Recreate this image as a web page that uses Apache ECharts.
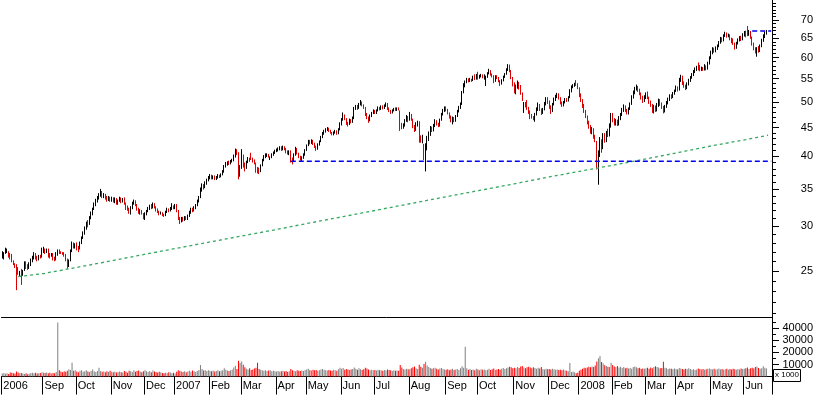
<!DOCTYPE html>
<html><head><meta charset="utf-8">
<script src="https://cdn.jsdelivr.net/npm/echarts@6/dist/echarts.min.js"></script>
<style>html,body{margin:0;padding:0;background:#fff;}#c{width:817px;height:395px;}</style>
</head><body><div id="c"></div>
<script>
// ---- categories (month segments of daily bars) ----
const monthLabels = ['2006','Sep','Oct','Nov','Dec','2007','Feb','Mar','Apr','May','Jun','Jul','Aug','Sep','Oct','Nov','Dec','2008','Feb','Mar','Apr','May','Jun'];
const monthDays   = [26,21,22,21,19,22,20,22,19,22,21,22,23,20,23,22,19,21,21,19,22,21,18];

// ---- daily bars: [open, close, low, high] ----
const ohlc = [
[26.5,26.9,26.3,27.1],[26.6,26.9,26.2,27.0],[26.9,27.3,26.8,27.5],[27.1,27.2,26.9,27.4],[27.0,26.6,26.4,27.1],
[26.7,26.4,26.2,26.9],[26.6,26.0,25.9,26.8],[26.0,25.7,25.6,26.1],[25.7,25.5,25.3,25.8],[25.6,24.7,23.1,25.7],
[25.2,24.9,24.6,25.4],[24.6,24.9,24.4,25.0],[25.1,24.6,23.6,25.2],[24.7,25.0,24.5,25.1],[25.2,25.8,25.0,26.0],
[25.9,25.4,25.2,26.0],[25.5,25.3,25.1,25.7],[25.4,25.7,25.2,25.9],[25.6,26.1,25.5,26.3],[26.0,26.5,25.9,26.6],
[26.4,26.8,26.2,27.0],[26.8,26.3,26.2,26.9],[26.5,26.2,26.0,26.6],[26.3,26.5,26.1,26.7],[26.6,26.5,26.3,26.7],
[26.5,27.2,26.4,27.5],
[27.1,27.4,26.9,27.6],[27.3,27.0,26.8,27.4],[27.0,27.2,26.9,27.4],[27.3,26.6,26.4,27.4],[26.7,26.5,26.3,26.9],
[26.6,26.8,26.5,26.9],[26.8,26.3,26.1,26.9],[26.3,26.1,26.0,26.5],[26.2,26.8,26.1,27.0],[26.7,27.2,26.6,27.3],
[27.2,26.9,26.8,27.3],[27.0,26.9,26.8,27.1],[26.9,26.8,26.7,27.0],[26.9,26.7,26.5,27.0],[26.7,26.2,26.0,26.8],
[26.2,25.6,25.2,26.3],[25.6,26.0,25.4,26.2],[26.1,27.0,26.0,27.3],[27.1,27.8,27.0,28.2],[27.9,27.6,27.4,28.1],
[27.6,27.9,27.4,28.0],
[28.0,27.4,27.2,28.1],[27.5,27.3,27.0,27.7],[27.4,28.0,27.3,28.2],[28.0,28.6,27.9,28.8],[28.6,29.2,28.5,29.4],
[29.2,29.8,29.0,30.0],[29.8,30.3,29.6,30.6],[30.4,30.2,29.9,30.8],[30.3,31.0,30.2,31.3],[31.0,31.6,30.9,31.9],
[31.6,32.2,31.4,32.4],[32.3,32.8,32.1,33.1],[32.8,33.4,32.6,33.6],[33.4,33.8,33.1,34.0],[33.8,34.2,33.5,34.4],
[34.2,34.6,33.9,35.0],[34.5,33.9,33.7,34.7],[33.9,34.2,33.7,34.4],[34.1,33.7,33.5,34.3],[33.8,33.5,33.2,34.0],
[33.5,33.8,33.3,34.0],[33.8,33.4,33.2,33.9],
[33.4,33.7,33.2,33.9],[33.7,33.3,33.1,33.8],[33.3,33.6,33.0,33.8],[33.6,33.0,32.8,33.7],[33.0,33.3,32.8,33.5],
[33.3,33.7,33.2,33.9],[33.7,33.2,33.0,33.8],[33.3,33.5,33.1,33.7],[33.6,33.0,32.8,33.8],[33.0,32.4,32.1,33.1],
[32.5,32.3,32.0,32.7],[32.2,32.0,31.6,32.4],[31.9,32.4,31.5,32.6],[32.4,33.0,32.2,33.2],[33.0,33.3,32.8,33.5],
[33.3,32.8,32.6,33.4],[32.8,32.3,32.0,32.9],[32.3,31.8,31.6,32.4],[31.8,32.1,31.5,32.2],[32.0,31.7,31.5,32.1],
[31.6,31.2,30.9,31.7],[31.2,31.6,30.8,31.8],
[31.6,31.9,31.4,32.1],[31.9,32.3,31.8,32.5],[32.3,32.6,32.1,32.8],[32.6,32.4,32.2,32.9],[32.4,32.9,32.3,33.1],
[32.9,32.5,32.3,33.0],[32.5,32.2,31.9,32.6],[32.2,31.9,31.7,32.3],[31.9,31.6,31.4,32.0],[31.6,31.7,31.5,31.9],
[31.7,31.5,31.3,31.8],[31.5,31.4,31.2,31.6],[31.4,31.8,31.3,32.0],[31.8,32.2,31.7,32.4],[32.2,32.0,31.8,32.3],
[32.0,32.3,31.9,32.5],[32.3,32.6,32.1,33.0],[32.6,32.4,32.2,32.7],[32.4,32.7,32.2,32.9],
[32.8,32.0,31.8,32.9],[32.0,31.0,30.8,32.1],[31.0,30.6,30.3,31.2],[30.7,31.0,30.5,31.2],[31.0,30.8,30.6,31.2],
[30.8,31.1,30.7,31.3],[31.1,30.9,30.8,31.3],[30.9,31.3,30.8,31.5],[31.3,31.8,31.2,32.0],[31.8,32.2,31.6,32.4],
[32.2,32.0,31.8,32.4],[32.0,32.4,31.9,32.6],[32.4,32.7,32.2,32.9],[32.7,33.2,32.6,33.5],[33.2,33.8,33.1,34.0],
[33.8,34.8,33.7,35.2],[34.9,35.5,34.6,35.8],[35.6,35.2,34.9,35.7],[35.2,35.8,35.1,36.1],[35.8,36.3,35.6,36.5],
[36.3,36.7,36.1,36.9],
[36.6,36.9,36.4,37.2],[36.9,36.6,36.4,37.1],[36.6,36.9,36.4,37.0],[36.9,36.5,36.3,37.0],[36.5,36.7,36.3,36.9],
[36.7,37.0,36.5,37.2],[37.0,36.8,36.6,37.1],[36.8,37.1,36.7,37.3],[37.1,37.6,37.0,37.8],[37.6,38.4,37.4,38.6],
[38.4,38.8,38.2,39.1],[38.8,39.0,38.5,39.2],[39.0,38.8,38.6,39.3],[38.8,39.2,38.7,39.4],[39.2,39.4,39.0,39.6],
[39.4,40.0,39.2,40.3],[40.0,41.0,39.8,41.3],[41.0,40.5,40.2,41.2],[40.6,36.9,36.4,40.7],[37.0,38.2,36.8,38.6],
[38.2,40.4,38.0,41.2],[40.2,38.6,38.2,40.3],[38.7,38.1,37.6,39.0],[38.2,39.0,38.0,39.3],[39.0,39.6,38.9,39.9],
[39.6,39.4,39.1,39.8],[40.2,39.7,39.4,40.6],[39.7,39.3,39.0,39.8],[39.4,38.9,38.7,39.5],[38.9,38.0,37.4,39.0],
[38.1,37.7,37.3,38.3],[37.8,37.6,37.2,38.2],[37.6,38.5,37.5,38.7],[38.5,39.3,38.4,39.6],[39.3,39.9,39.2,40.2],
[39.9,40.3,39.7,40.5],[40.1,40.3,39.9,40.5],[40.3,40.0,39.8,40.4],[39.6,39.8,39.4,40.0],[39.8,40.3,39.7,40.5],
[40.3,40.6,40.1,40.8],[40.6,40.9,40.4,41.1],
[40.9,41.1,40.7,41.3],[41.0,41.3,40.8,41.5],[41.3,41.5,41.0,41.7],[41.5,41.2,40.9,41.7],[41.2,41.6,41.0,41.8],
[41.6,41.3,41.0,41.7],[41.3,40.8,40.5,41.4],[40.8,40.6,40.3,41.0],[40.5,40.9,40.2,41.0],[40.9,39.6,39.0,41.0],
[39.6,39.2,38.7,39.8],[39.3,40.2,39.1,40.5],[40.2,41.2,40.1,41.6],[41.2,40.5,40.3,41.4],[40.5,39.9,39.7,40.6],
[39.9,39.6,39.3,40.1],[39.6,39.9,39.2,40.0],[39.9,40.3,39.6,40.5],[40.3,41.0,40.1,41.2],
[41.0,41.8,40.9,42.0],[41.8,42.5,41.7,42.8],[42.5,42.3,42.0,42.8],[42.3,42.7,42.1,42.9],[42.7,42.2,41.9,42.8],
[42.2,41.7,41.4,42.3],[41.7,41.3,40.9,41.8],[41.3,41.9,41.1,42.2],[41.9,42.5,41.8,42.7],[42.5,43.3,42.4,43.5],
[43.3,43.9,43.1,44.2],[43.9,44.3,43.7,44.6],[44.3,44.6,44.1,44.9],[44.6,44.9,44.4,45.1],[44.9,44.5,44.2,45.0],
[44.5,44.1,43.9,44.6],[44.1,43.8,43.6,44.2],[43.8,44.1,43.6,44.3],[44.1,44.4,43.9,44.6],[44.4,43.9,43.7,44.5],
[43.9,44.6,43.8,44.9],[44.6,45.6,44.5,46.0],[45.6,46.5,45.4,46.8],
[46.5,47.3,46.3,47.9],[47.3,46.7,46.4,47.5],[46.7,45.9,45.5,46.8],[45.9,45.6,45.2,46.1],[45.6,46.4,45.5,46.7],
[46.4,46.0,45.8,46.6],[46.0,46.8,45.9,47.1],[46.8,48.6,46.6,49.0],[48.6,49.2,48.4,49.4],[49.2,48.7,48.4,49.4],
[48.7,49.5,48.6,49.8],[49.5,50.0,49.3,50.4],[50.0,49.4,49.1,50.1],[49.4,48.9,48.6,49.5],[48.9,47.6,47.2,49.0],
[47.6,46.9,46.6,47.8],[46.9,46.4,45.9,47.1],[46.4,47.2,46.2,47.5],[47.2,47.8,47.0,48.0],[47.8,48.2,47.6,48.5],
[48.2,47.9,47.6,48.4],[47.9,48.3,47.6,48.5],[48.3,48.8,48.1,49.1],[48.8,48.6,48.3,49.0],[48.6,49.1,48.4,49.3],
[49.1,48.8,48.5,49.3],[48.8,49.3,48.6,49.5],[49.3,49.6,49.0,49.9],[49.6,48.7,48.4,49.8],[48.7,48.2,48.0,48.9],
[48.2,47.8,47.6,48.4],[47.9,48.3,47.7,48.5],[48.3,48.6,48.1,48.8],[48.6,48.4,48.2,48.9],[48.4,48.7,48.2,48.9],
[48.7,48.5,48.3,48.9],[48.2,45.5,44.4,48.3],[45.6,45.0,44.7,45.9],[45.1,45.4,44.8,45.8],[45.4,46.3,45.2,46.6],
[46.3,47.1,46.1,47.4],[47.1,46.3,46.0,47.2],
[46.4,47.5,46.3,48.0],[47.5,46.6,46.3,47.6],[46.6,45.3,44.9,46.7],[45.3,44.6,44.2,45.5],[44.6,45.4,44.4,46.0],
[45.4,46.0,45.2,46.3],[45.9,43.2,42.3,46.2],[43.2,42.6,42.3,43.6],[42.6,43.3,42.2,43.7],[42.0,40.3,39.4,42.1],
[40.0,41.5,37.6,42.2],[41.5,42.9,41.0,43.5],[42.9,43.8,42.6,44.3],[43.8,44.9,43.5,45.3],[44.9,44.5,44.2,45.2],
[44.5,45.4,44.3,45.7],[45.4,46.2,45.1,46.6],[46.2,45.7,45.4,46.4],[45.7,45.3,45.1,45.9],[45.3,46.4,45.2,46.7],
[46.4,47.5,46.3,47.8],[47.5,48.3,47.3,48.6],[48.3,48.8,48.0,49.1],
[48.8,48.4,48.1,49.1],[48.4,47.8,47.5,48.6],[47.8,47.1,46.7,47.9],[47.1,46.4,46.0,47.3],[46.4,46.9,45.6,47.1],
[46.9,46.3,46.0,47.0],[46.3,47.2,46.1,47.4],[47.2,48.1,47.0,48.4],[48.1,48.8,47.9,49.2],[48.8,49.5,48.6,49.9],
[49.5,52.0,49.4,52.3],[52.0,53.4,51.8,54.0],[53.4,54.3,53.1,54.6],[54.3,54.9,54.0,55.2],[54.9,54.5,54.2,55.1],
[54.5,54.9,54.3,55.2],[54.9,54.6,54.3,55.0],[54.6,55.3,54.5,55.7],[55.3,55.0,54.7,56.0],[55.0,55.6,54.8,56.1],
[55.9,55.2,54.8,56.6],[55.2,55.6,55.0,55.9],[55.6,55.9,55.3,56.1],[55.9,55.4,55.1,56.0],[55.2,55.8,54.8,56.0],
[53.9,55.4,53.4,55.7],[55.4,56.2,55.2,56.5],[56.2,56.9,56.0,57.3],[56.9,56.0,55.7,57.0],[56.0,55.6,55.3,56.2],
[55.6,54.6,54.0,55.8],[54.6,55.5,54.3,55.8],[55.5,55.2,54.9,55.8],[55.2,54.5,54.2,55.4],[54.5,53.9,53.4,54.7],
[53.9,54.6,53.7,54.9],[54.6,55.4,54.4,55.7],[55.4,56.0,55.2,56.3],[56.0,57.1,55.9,57.4],[57.1,57.6,56.8,58.4],
[57.9,56.8,56.5,58.3],[56.8,55.2,54.9,57.0],[55.2,54.0,53.3,55.4],
[54.0,52.4,51.8,54.2],[52.2,53.2,51.6,53.7],[53.2,54.0,52.8,54.6],[54.0,53.2,52.6,54.3],[53.2,52.0,51.5,53.6],
[51.6,50.5,50.2,52.0],[48.2,49.6,47.8,50.0],[49.6,49.2,48.9,50.0],[49.8,48.8,48.4,50.4],[48.8,48.0,47.6,49.0],
[48.0,47.3,46.6,48.3],[47.3,47.0,46.7,47.6],[47.0,46.8,46.4,47.2],[46.6,47.5,46.1,47.8],[47.5,48.6,47.3,48.9],
[48.6,49.5,48.2,49.9],[49.5,48.5,48.2,49.6],[48.5,47.9,47.4,48.7],[47.9,48.5,47.6,48.8],[48.5,49.6,48.3,50.0],
[49.6,50.6,49.3,51.0],[50.6,50.0,49.6,51.0],
[50.0,49.0,48.6,50.3],[49.0,48.2,47.6,49.3],[48.2,49.5,48.0,49.8],[49.5,50.5,49.3,50.9],[50.5,51.2,50.2,51.5],
[51.2,51.6,50.8,51.9],[51.6,50.8,50.5,51.8],[50.8,49.8,49.5,51.0],[49.8,49.4,49.0,50.1],[49.4,49.9,49.1,50.2],
[49.9,50.5,49.7,50.8],[50.5,50.3,50.0,50.8],[50.3,51.0,50.1,51.2],[51.0,52.3,50.8,52.7],[52.3,53.1,52.0,53.5],
[53.1,53.5,52.9,53.8],[53.5,53.8,53.2,54.1],[54.6,53.7,53.4,54.7],[53.7,53.0,52.7,54.0],
[53.0,51.6,51.0,53.1],[51.6,50.4,50.0,51.8],[50.4,49.4,48.8,50.6],[49.4,48.2,47.8,49.6],[48.2,47.1,46.8,48.4],
[47.1,46.0,45.6,47.3],[46.0,45.2,44.8,46.3],[45.2,44.3,43.9,45.5],[44.3,44.7,43.8,45.1],[44.7,43.4,43.0,44.9],
[43.4,42.8,42.4,43.7],[42.5,38.4,37.9,42.6],[38.4,40.1,35.6,41.0],[40.1,42.3,39.9,43.3],[42.3,41.4,40.6,42.9],
[41.4,43.4,41.2,44.0],[43.4,42.6,42.3,44.0],[42.6,44.0,42.4,44.4],[44.0,43.6,43.3,44.8],[43.6,45.3,43.4,45.8],
[45.3,47.2,45.0,47.8],
[47.2,46.4,46.0,47.8],[46.4,45.8,45.4,46.8],[45.8,46.2,45.4,46.6],[46.2,45.6,45.3,46.5],[45.6,46.8,45.4,47.2],
[46.8,47.5,46.4,47.8],[47.5,48.4,47.2,48.8],[48.4,49.0,48.0,49.5],[49.0,48.3,48.0,49.3],[48.3,47.8,47.5,48.6],
[47.8,48.6,47.5,48.9],[48.6,49.6,48.4,49.9],[49.6,51.0,49.4,51.4],[51.0,52.0,50.7,52.4],[52.0,52.8,51.6,53.2],
[52.8,53.2,52.4,53.7],[53.2,52.5,52.1,53.4],[52.5,51.8,51.4,52.8],[51.8,51.0,50.5,52.0],[51.0,50.3,49.8,51.3],
[50.3,51.0,50.0,51.4],
[51.0,51.6,50.6,52.0],[51.6,50.9,50.6,52.2],[50.9,50.0,49.6,51.1],[50.0,49.4,49.0,50.3],[49.4,48.3,47.8,49.6],
[48.0,49.0,47.7,49.4],[49.0,48.4,48.0,49.3],[48.4,49.4,48.1,49.8],[49.4,50.2,49.0,50.7],[50.2,49.6,49.2,50.6],
[49.6,49.0,48.6,49.9],[49.0,48.2,47.7,49.2],[48.2,49.0,47.9,49.4],[49.0,49.8,48.8,50.2],[49.8,50.5,49.5,50.9],
[50.5,51.2,50.2,51.6],[51.2,51.0,50.6,51.6],[51.0,51.7,50.8,52.1],[51.7,52.3,51.5,52.6],
[52.3,53.0,52.1,53.5],[53.0,52.6,52.2,53.3],[52.6,54.6,52.4,55.2],[54.6,55.4,54.3,55.9],[55.4,54.0,53.6,55.7],
[54.0,53.4,53.0,54.4],[53.4,52.9,52.5,53.7],[52.9,53.8,52.7,54.2],[53.8,54.6,53.5,55.0],[54.6,55.2,54.3,55.6],
[55.2,55.9,55.0,56.3],[55.9,56.6,55.6,57.0],[56.6,57.2,56.3,57.6],[57.2,57.5,56.8,58.0],[57.9,57.2,56.9,58.8],
[57.6,57.0,56.7,58.2],[57.0,57.4,56.8,57.8],[57.4,57.1,56.8,57.7],[57.1,57.8,56.9,58.4],[57.8,57.3,56.9,58.1],
[57.3,58.5,57.1,59.0],
[58.5,59.8,58.3,60.3],[59.8,61.2,59.6,61.7],[61.2,62.0,60.8,62.6],[62.0,61.6,61.2,62.5],[61.6,62.3,61.3,62.8],
[62.3,62.9,61.9,63.3],[62.9,63.8,62.6,64.2],[63.8,64.9,63.5,65.3],[64.9,64.3,63.9,65.2],[64.3,65.6,64.1,66.0],
[65.6,66.2,65.3,66.7],[66.2,65.5,65.1,66.5],[65.5,65.9,65.2,66.2],[65.9,64.8,64.4,66.0],[64.8,64.0,63.6,65.1],
[64.3,63.5,63.2,64.9],[63.5,62.5,62.0,63.8],[62.5,63.6,62.2,64.0],[63.6,64.5,63.3,64.9],[64.5,65.1,64.1,65.5],
[65.1,64.6,64.2,65.6],[64.6,65.8,64.4,66.3],
[65.8,66.4,65.4,66.9],[66.4,65.6,65.2,67.0],[66.8,66.0,65.5,68.3],[66.0,66.7,65.6,67.2],[66.7,65.2,64.8,66.9],
[65.2,63.5,63.0,65.4],[63.5,62.3,61.8,63.8],[62.3,61.5,61.0,62.6],[61.0,62.2,60.2,62.6],[62.2,61.6,61.2,62.9],
[61.6,62.8,61.4,63.3],[62.8,64.3,62.6,64.8],[64.3,65.4,64.0,66.0],[65.4,66.3,65.0,66.8],[66.3,66.8,65.9,67.2]
];

// ---- daily volume (x 1000) ----
const volume = [
2500,3000,2200,2600,2000,3400,3100,2800,2500,4200,3300,2700,3000,2400,2100,2600,1800,2300,2900,3200,2700,3100,2500,2800,3000,3600,
3200,2900,3400,2600,3100,2500,3000,2800,3700,45000,5200,4100,3600,4300,3900,4800,6100,5500,11500,4700,5300,
4200,3600,4800,5100,3900,4400,5300,4100,3700,4600,5900,4300,3800,4500,7200,4600,3900,4200,3600,4400,3800,4700,
3900,3500,4200,3300,3800,4100,3600,3400,4500,3900,3200,4800,4300,3700,5200,3900,4600,5000,4100,3600,4400,5100,
4300,3800,4500,3600,4900,4100,3700,3300,3900,3500,3000,2600,3200,2900,3600,3300,2800,3100,2500,
3900,5200,4600,4100,3800,4400,3600,4200,4700,4000,5000,4300,3800,4500,5400,9600,6200,4900,5300,4600,5100,
4800,4300,4900,4200,4600,5100,4400,4700,5300,6800,5600,4900,4500,5200,5800,7400,8900,6300,13000,11200,
12500,9800,7600,6400,5800,6900,5400,5900,6600,7200,11500,6300,5600,5100,4800,5300,4600,4900,5200,4400,4700,4300,
4100,4500,3900,4300,4800,4200,4600,3800,4400,6200,5100,4700,4300,5300,4800,4500,5000,4600,5500,
5800,6400,5200,4900,5600,5100,5400,4800,5200,5900,6300,5700,5300,4900,5400,5000,4700,5600,5200,4800,6100,7300,6500,
7000,5600,6200,5800,5400,5900,6300,7400,6500,5700,6800,6000,5400,6100,7200,6600,5800,5200,5600,5300,
5400,4900,5600,5100,5300,4800,5500,5000,5900,5400,5100,4600,5200,4800,5000,4700,9500,7400,6300,5800,6500,6000,
6100,6800,7600,8400,6900,6200,9800,8100,7300,10500,12300,9200,7800,7100,6500,6900,7300,6400,5900,6600,7000,6200,5800,
5600,6100,5300,5800,6500,5400,5900,6200,5500,6800,8600,7300,24800,6900,5700,6300,5500,5900,5200,6400,
5800,5300,6100,5600,5900,5200,5700,6400,5500,6000,6700,5400,5800,6200,5600,6500,7100,6300,6800,7400,8200,7600,6900,
7300,6800,7900,7100,8400,8800,7500,6900,7700,8200,7400,6800,7600,7000,6500,7200,6600,7800,6300,5900,6400,6100,
6200,5800,6500,6000,5600,5900,5400,5700,5300,5800,5100,4700,4300,11200,3800,4200,3500,2600,3100,
4800,5600,6400,7200,6800,7500,8100,7600,8300,7900,9200,12500,15200,17000,12000,10800,9400,8700,8200,7900,11500,
9600,8400,7800,8700,7500,8200,7100,7900,6800,7300,6600,7000,6400,7800,8300,7600,6900,7300,6200,6700,6500,
6800,7200,6400,7500,6900,7800,8600,7900,7400,6800,7100,12300,7300,6900,6200,6700,6400,6000,6600,
6300,5900,7100,6600,6200,5800,6400,6000,6900,6300,5700,6100,5500,5900,6600,6200,5800,6300,5600,6000,6500,
6700,6200,5900,6400,5800,6100,6600,5900,6300,5700,6000,6400,5600,6200,5800,6500,6100,5700,6300,5900,6600,6200,
6500,6900,7400,6300,6800,7200,6600,7800,8400,7100,6500,6900,8600,7300,6700
];

// ---- long moving average, read at month starts: [bar index, price] ----
const maPoints = [[10,24.42],[26,24.73],[47,25.36],[69,26.06],[91,26.80],[110,27.43],[131,28.15],[151,28.85],
[173,29.63],[192,30.36],[215,31.24],[235,32.03],[257,32.93],[280,33.89],[300,34.74],[323,35.74],[345,36.76],
[364,37.61],[386,38.61],[407,39.63],[427,40.66],[447,41.74],[469,42.85],[483,43.62]];

// ---- drawn horizontal lines: [startBar, endBar, price] ----
const supportLine = [182, 485, 39.2];
const resistLine  = [473, 485, 66.9];

// ---- axis ticks ----
const priceTicks = [25,30,35,40,45,50,55,60,65,70];
const priceMinorTicks = [21,22,23,24,25,26,27,28,29,30,31,32,33,34,35,36,37,38,39,40,41,42,43,44,45,46,47,48,49,50,51,52,53,54,55,56,57,58,59,60,61,62,63,64,65,66,67,68,69,70,71,72,73,74,75];
const volumeTicks = [10000,20000,30000,40000];
const volumeMinorTicks = [5000,15000,25000,35000,45000];
const priceRange = [20.69, 75.98];
const volumeMax = 49500;

// ---- build ----
const ln = Math.log;
const cats = [], isStart = [], labelAt = [];
monthDays.forEach((n, m) => { for (let d = 0; d < n; d++) { isStart.push(d === 0); labelAt.push(d === 0 ? monthLabels[m] : ''); cats.push('b' + cats.length); } });
const RED = '#dd0000', VRED = '#ff0000', VGREY = '#7f7f7f';
const FONT = '"Liberation Sans", Arial, sans-serif';
const candle = ohlc.map(r => r.map(v => ln(v)));
const volData = volume.map((v, i) => ({ value: v, itemStyle: { color: ohlc[i][1] < ohlc[i][0] ? VRED : VGREY } }));
const GL = 1.5, GR = 45;

const chart = echarts.init(document.getElementById('c'), null, { renderer: 'canvas', width: 817, height: 395 });
chart.setOption({
  animation: false,
  backgroundColor: '#fff',
  grid: [
    { left: GL, right: GR, top: 0, height: 317 },
    { left: GL, right: GR, top: 317, height: 59.5 }
  ],
  xAxis: [
    { type: 'category', gridIndex: 0, data: cats, boundaryGap: true,
      axisLine: { show: true, lineStyle: { color: '#000', width: 1 } }, axisTick: { show: false }, axisLabel: { show: false }, splitLine: { show: false } },
    { type: 'category', gridIndex: 1, data: cats, boundaryGap: true,
      axisLine: { show: true, lineStyle: { color: '#000', width: 1 } },
      axisTick: { show: true, interval: (i) => !!isStart[i], length: 18, lineStyle: { color: '#000', width: 1 } },
      axisLabel: { show: true, interval: (i) => !!isStart[i], formatter: (v, i) => labelAt[i] || '', align: 'left', margin: 4, padding: [0, 0, 0, 1],
        color: '#000', fontSize: 11, fontFamily: FONT },
      splitLine: { show: false } }
  ],
  yAxis: [
    { type: 'value', gridIndex: 0, position: 'right', min: ln(priceRange[0]), max: ln(priceRange[1]),
      axisLine: { show: true, lineStyle: { color: '#000', width: 1 } },
      axisTick: { show: true, length: 7, customValues: priceTicks.map(v => ln(v)), lineStyle: { color: '#000' } },
      axisLabel: { show: true, customValues: priceTicks.map(v => ln(v)), formatter: (v) => String(Math.round(Math.exp(v))),
        align: 'right', margin: 41, color: '#000', fontSize: 11, fontFamily: FONT },
      splitLine: { show: false } },
    { type: 'value', gridIndex: 0, position: 'left', offset: -770.5, min: ln(priceRange[0]), max: ln(priceRange[1]),
      axisLine: { show: false }, axisTick: { show: true, inside: true, length: 4, customValues: priceMinorTicks.map(v => ln(v)), lineStyle: { color: '#000' } },
      axisLabel: { show: false }, splitLine: { show: false } },
    { type: 'value', gridIndex: 1, position: 'right', min: 0, max: volumeMax,
      axisLine: { show: true, lineStyle: { color: '#000', width: 1 } },
      axisTick: { show: true, length: 7, customValues: volumeTicks, lineStyle: { color: '#000' } },
      axisLabel: { show: true, customValues: volumeTicks, formatter: (v) => String(Math.round(v)), align: 'right', margin: 41, color: '#000', fontSize: 11, fontFamily: FONT },
      splitLine: { show: false } },
    { type: 'value', gridIndex: 1, position: 'left', offset: -770.5, min: 0, max: volumeMax,
      axisLine: { show: false }, axisTick: { show: true, inside: true, length: 4, customValues: volumeMinorTicks, lineStyle: { color: '#000' } },
      axisLabel: { show: false }, splitLine: { show: false } }
  ],
  series: [
    { type: 'candlestick', xAxisIndex: 0, yAxisIndex: 0, data: candle, barWidth: 1,
      itemStyle: { color: '#000', color0: RED, borderColor: '#000', borderColor0: RED, borderWidth: 1 } },
    { type: 'line', xAxisIndex: 0, yAxisIndex: 0, data: maPoints.map(p => [p[0], ln(p[1])]), showSymbol: false, silent: true,
      lineStyle: { color: '#35a860', width: 1.3, type: [3, 3] } },
    { type: 'line', xAxisIndex: 0, yAxisIndex: 0, data: [[supportLine[0], ln(supportLine[2])], [supportLine[1], ln(supportLine[2])]], showSymbol: false, silent: true,
      lineStyle: { color: '#0000ee', width: 1.3, type: [5, 3] } },
    { type: 'line', xAxisIndex: 0, yAxisIndex: 0, data: [[resistLine[0], ln(resistLine[2])], [resistLine[1], ln(resistLine[2])]], showSymbol: false, silent: true,
      lineStyle: { color: '#0000ee', width: 1.3, type: [5, 3] } },
    { type: 'bar', xAxisIndex: 1, yAxisIndex: 2, data: volData, barWidth: 1 }
  ],
  graphic: [
    { type: 'rect', left: 773, top: 369, shape: { width: 27, height: 12 }, style: { fill: '#fff', stroke: '#000', lineWidth: 1 }, z: 100 },
    { type: 'text', left: 775, top: 370.5, style: { text: 'x 1000', fill: '#000', font: '8px ' + FONT }, z: 101 }
  ]
});
</script>
</body></html>
